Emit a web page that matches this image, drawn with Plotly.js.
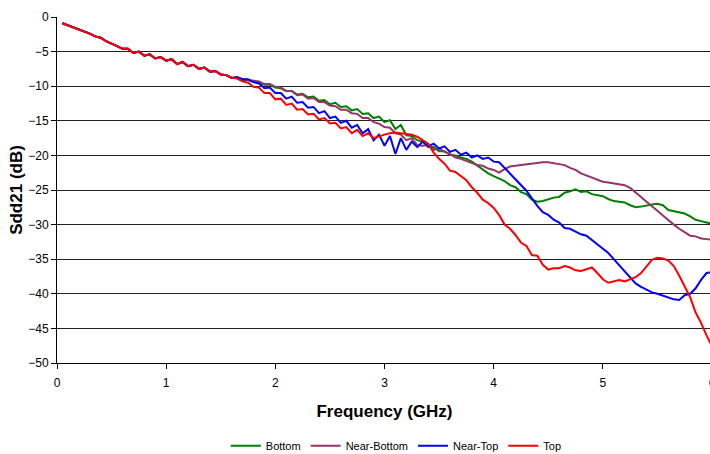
<!DOCTYPE html>
<html>
<head>
<meta charset="utf-8">
<script src="https://cdn.plot.ly/plotly-3.0.1.min.js"></script>
<style>
html,body{margin:0;padding:0;overflow:hidden;background:#fff;}
#chart{width:716px;height:454px;}
</style>
</head>
<body>
<div id="chart"></div>
<script>
const freq = [0.05,0.10,0.15,0.20,0.25,0.30,0.35,0.40,0.45,0.50,0.55,0.60,0.65,0.70,0.75,0.80,0.85,0.90,0.95,1.00,
1.05,1.10,1.15,1.20,1.25,1.30,1.35,1.40,1.45,1.50,1.55,1.60,1.65,1.70,1.75,1.80,1.85,1.90,1.95,2.00,
2.05,2.10,2.15,2.20,2.25,2.30,2.35,2.40,2.45,2.50,2.55,2.60,2.65,2.70,2.75,2.80,2.85,2.90,2.95,3.00,
3.05,3.10,3.15,3.20,3.25,3.30,3.35,3.40,3.45,3.50,3.55,3.60,3.65,3.70,3.75,3.80,3.85,3.90,3.95,4.00,
4.05,4.10,4.15,4.20,4.25,4.30,4.35,4.40,4.45,4.50,4.55,4.60,4.65,4.70,4.75,4.80,4.85,4.90,4.95,5.00,
5.05,5.10,5.15,5.20,5.25,5.30,5.35,5.40,5.45,5.50,5.55,5.60,5.65,5.70,5.75,5.80,5.85,5.90,5.95,6.00];

const bottomSeries = [-0.9,-1.2,-1.5,-1.8,-2.0,-2.4,-2.8,-3.0,-3.5,-3.8,-4.2,-4.6,-4.6,-5.2,-5.0,-5.6,-5.4,-6.0,-5.8,-6.3,
-6.1,-6.8,-6.5,-7.1,-6.9,-7.5,-7.3,-7.9,-7.8,-8.3,-8.4,-8.8,-8.7,-9.1,-9.1,-9.4,-9.5,-9.8,-9.8,-10.2,
-10.3,-10.7,-10.7,-11.2,-11.1,-11.6,-11.5,-12.1,-12.0,-12.6,-12.4,-13.0,-12.9,-13.5,-13.3,-14.0,-13.9,-14.6,-14.4,-15.2,
-14.9,-16.2,-15.6,-17.1,-17.2,-17.8,-18.0,-18.8,-18.8,-19.4,-19.4,-19.9,-20.0,-20.3,-20.5,-20.9,-21.5,-22.0,-22.6,-23.0,
-23.4,-23.7,-24.3,-24.6,-25.3,-25.6,-26.4,-26.7,-26.6,-26.3,-26.1,-26.0,-25.4,-25.2,-24.9,-25.3,-25.2,-25.6,-25.7,-25.9,
-26.3,-26.6,-26.7,-26.8,-27.2,-27.5,-27.4,-27.2,-27.1,-27.0,-27.2,-27.9,-28.1,-28.3,-28.4,-28.8,-29.3,-29.5,-29.7,-29.9];

const nearBottomSeries = [-0.9,-1.2,-1.5,-1.8,-2.0,-2.4,-2.8,-3.0,-3.5,-3.8,-4.2,-4.6,-4.6,-5.2,-5.0,-5.6,-5.4,-6.0,-5.8,-6.3,
-6.1,-6.8,-6.5,-7.1,-6.9,-7.5,-7.3,-7.9,-7.8,-8.3,-8.4,-8.8,-8.7,-9.0,-9.1,-9.3,-9.3,-9.7,-9.7,-10.1,
-10.2,-10.7,-10.7,-11.3,-11.2,-11.8,-11.7,-12.3,-12.3,-12.8,-12.9,-13.4,-13.4,-13.9,-14.0,-14.6,-14.6,-15.2,-15.4,-15.9,
-16.0,-16.8,-17.0,-17.8,-17.5,-18.5,-18.6,-18.5,-19.2,-19.0,-19.5,-19.8,-20.3,-20.5,-20.8,-21.1,-21.4,-21.5,-21.9,-22.1,
-22.5,-22.0,-21.6,-21.5,-21.4,-21.2,-21.1,-21.1,-21.0,-21.0,-21.1,-21.3,-21.4,-21.8,-22.1,-22.6,-22.9,-23.3,-23.6,-23.8,
-23.9,-24.0,-24.1,-24.3,-24.7,-25.3,-26.0,-26.7,-27.3,-28.0,-28.7,-29.4,-30.0,-30.6,-31.1,-31.6,-31.7,-32.0,-32.1,-32.2];

const nearTopSeries = [-0.9,-1.2,-1.5,-1.8,-2.0,-2.4,-2.8,-3.0,-3.5,-3.8,-4.2,-4.6,-4.6,-5.2,-5.0,-5.6,-5.4,-6.0,-5.8,-6.3,
-6.1,-6.8,-6.5,-7.1,-6.9,-7.5,-7.3,-7.9,-7.8,-8.3,-8.4,-8.8,-8.7,-9.0,-9.0,-9.4,-9.6,-10.3,-10.2,-11.0,
-11.0,-11.8,-11.5,-12.4,-12.3,-13.1,-13.0,-13.9,-13.6,-14.6,-14.4,-15.3,-15.0,-16.0,-15.6,-16.8,-16.2,-17.8,-17.0,-18.6,
-17.2,-19.8,-17.5,-19.2,-18.0,-18.8,-18.0,-18.7,-18.3,-19.0,-18.7,-19.5,-19.2,-19.9,-19.6,-20.3,-20.0,-20.5,-20.3,-20.9,
-21.0,-21.8,-22.6,-23.5,-24.2,-25.1,-26.2,-27.3,-28.2,-28.6,-29.3,-29.7,-30.5,-30.6,-31.0,-31.4,-31.6,-32.2,-32.9,-33.5,
-34.1,-35.0,-35.9,-36.8,-37.7,-38.5,-39.0,-39.4,-39.8,-40.0,-40.3,-40.6,-40.8,-40.9,-40.2,-40.0,-39.2,-38.0,-37.0,-36.9];

const topSeries = [-0.9,-1.2,-1.5,-1.8,-2.0,-2.4,-2.8,-3.0,-3.5,-3.8,-4.2,-4.6,-4.6,-5.2,-5.0,-5.6,-5.4,-6.0,-5.8,-6.3,
-6.1,-6.8,-6.5,-7.1,-6.9,-7.5,-7.3,-7.9,-7.8,-8.3,-8.4,-8.8,-8.9,-9.3,-9.5,-10.1,-10.2,-11.0,-11.0,-11.9,
-11.8,-12.7,-12.5,-13.4,-13.3,-14.1,-14.0,-14.8,-14.6,-15.4,-15.3,-16.1,-15.9,-16.8,-16.3,-17.2,-16.8,-17.5,-17.2,-17.0,
-16.8,-16.7,-16.8,-16.9,-17.0,-17.3,-17.8,-18.3,-19.6,-20.5,-21.2,-22.2,-22.4,-23.0,-23.6,-24.6,-25.4,-26.4,-26.9,-27.6,
-28.6,-30.0,-30.6,-31.5,-32.6,-33.1,-34.4,-34.5,-35.8,-36.5,-36.3,-36.3,-36.0,-36.2,-36.6,-36.7,-36.4,-36.2,-37.0,-37.9,
-38.4,-38.2,-38.0,-38.2,-37.9,-37.6,-37.0,-36.0,-35.1,-34.8,-34.9,-35.2,-36.0,-37.4,-39.0,-40.5,-42.7,-44.2,-46.0,-47.6];

const seriesNames = ["Bottom","Near-Bottom","Near-Top","Top"];
const seriesColors = ["#008000","#993366","#0000FF","#FF0000"];
const seriesData = [bottomSeries, nearBottomSeries, nearTopSeries, topSeries];

const traces = seriesData.map((ys, i) => ({
  x: freq, y: ys, type: "scatter", mode: "lines", name: seriesNames[i],
  line: {color: seriesColors[i], width: 2}
}));

const layout = {
  width: 716, height: 454,
  margin: {l: 57, r: 4, t: 17, b: 91},
  paper_bgcolor: "#fff", plot_bgcolor: "#fff",
  font: {family: "Liberation Sans, Arial, sans-serif", size: 12, color: "#000"},
  showlegend: true,
  legend: {orientation: "h", x: 0.518, xanchor: "center", yref: "container", y: 0.018, yanchor: "middle",
           font: {size: 11, color: "#000"}, itemwidth: 30, tracegroupgap: 0},
  xaxis: {
    range: [0, 6], tickvals: [0,1,2,3,4,5,6], showgrid: false, zeroline: false,
    showline: true, linecolor: "#000", linewidth: 1, ticks: "outside", ticklen: 5, tickcolor: "#000",
    tickfont: {size: 12}, ticklabelstandoff: 4,
    title: {text: "Frequency (GHz)", font: {size: 17, color: "#000", weight: "bold"}, standoff: 15}
  },
  yaxis: {
    range: [-50, 0], tickvals: [0,-5,-10,-15,-20,-25,-30,-35,-40,-45,-50], showgrid: true,
    gridcolor: "#222", gridwidth: 1, zeroline: false,
    showline: true, linecolor: "#000", linewidth: 1, ticks: "outside", ticklen: 5, tickcolor: "#000",
    tickfont: {size: 12},
    title: {text: "Sdd21 (dB)", font: {size: 17, color: "#000", weight: "bold"}, standoff: 1}
  }
};

Plotly.newPlot("chart", traces, layout, {staticPlot: true, displayModeBar: false});
</script>
</body>
</html>
